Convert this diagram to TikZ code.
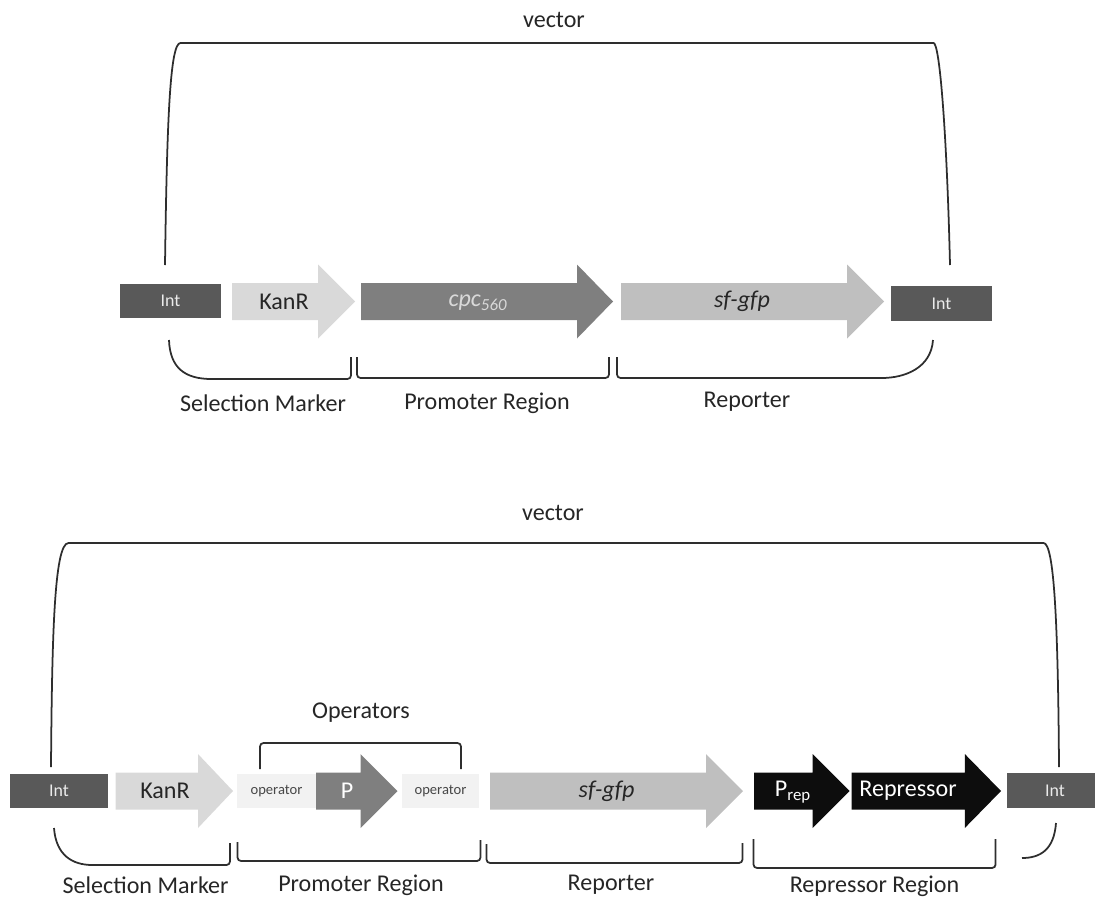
\documentclass[tikz,border=0pt]{standalone}
\usepackage{fontspec}
\setmainfont{Carlito}
\definecolor{intgray}{HTML}{595959}
\definecolor{kangray}{HTML}{D9D9D9}
\definecolor{pgray}{HTML}{7F7F7F}
\definecolor{gfpgray}{HTML}{BFBFBF}
\definecolor{opgray}{HTML}{F2F2F2}
\definecolor{repblack}{HTML}{0D0D0D}
\definecolor{txtdark}{HTML}{262626}
\definecolor{linegray}{HTML}{2E2E2E}
\begin{document}
\begin{tikzpicture}[x=0.02cm,y=-0.02cm,lbl/.style={font=\fontsize{13.7}{16}\selectfont,text=txtdark},intbox/.style={fill=intgray,text=white!92!black,font=\fontsize{10.2}{12}\selectfont,minimum height=0.68cm,inner sep=0pt},opbox/.style={fill=opgray,text=txtdark!85,font=\fontsize{8.3}{10}\selectfont,minimum height=0.68cm,inner sep=0pt},brk/.style={draw=linegray,line width=1pt,rounded corners=2pt}]
\def\bh{18.5}
\def\hh{37}
\def\gene#1#2#3#4#5{\fill[#5] (#1,#4-\bh) -- (#2,#4-\bh) -- (#2,#4-\hh) -- (#3,#4) -- (#2,#4+\hh) -- (#2,#4+\bh) -- (#1,#4+\bh) -- cycle;}

\useasboundingbox (0,0) rectangle (1095,899);

% first construct
\node[lbl] (vec1) at (554,20) {vector};
\draw[brk] (165,265) .. controls (167,120) and (170,43) .. (184,43) -- (930,43) .. controls (940,43) and (947,140) .. (950,265);

\node[intbox,minimum width=2.02cm] (int1L) at (170.5,301) {Int};
\gene{232}{318}{355}{301.5}{kangray}
\node[lbl] (kan1) at (284,301.5) {KanR};
\gene{361}{577}{613}{301.5}{pgray}
\node[lbl,text=kangray] (cpc1) at (478,303) {\textit{cpc\textsubscript{560}}};
\gene{621}{847}{884}{301.5}{gfpgray}
\node[lbl] (gfp1) at (742,301.5) {\textit{sf-gfp}};
\node[intbox,minimum width=2.02cm,minimum height=0.7cm] (int1R) at (941.5,303.5) {Int};

\draw[brk] (169,340) .. controls (170,368) and (185,379) .. (215,379) -- (351,379) -- (351,357);
\draw[brk] (357,357) -- (357,378) -- (609,378) -- (609,357);
\draw[brk] (617,357) -- (617,378) -- (878,378) .. controls (905,378) and (931,368) .. (933,340);
\node[lbl] (sel1) at (263,403) {Selection Marker};
\node[lbl] (prom1) at (487,403) {Promoter Region};
\node[lbl] (rep1) at (747,402) {Reporter};

% second construct
\node[lbl] (vec2) at (553,513) {vector};
\draw[brk] (51,767) .. controls (52,640) and (54,543) .. (72,543) -- (1040,543) .. controls (1054,543) and (1058,620) .. (1059,767);

\node[intbox,minimum width=1.95cm] (int2L) at (59,791) {Int};
\gene{115.7}{198}{233}{791}{kangray}
\node[lbl] (kan2) at (165,791) {KanR};
\node[opbox,minimum width=1.58cm] (op1) at (276.5,791) {operator};
\gene{316}{360.5}{397.5}{791}{pgray}
\node[lbl,text=white] (p2) at (347,791) {P};
\node[opbox,minimum width=1.56cm] (op2) at (440.5,791) {operator};
\gene{490}{706}{743}{791}{gfpgray}
\node[lbl] (gfp2) at (606.6,791) {\textit{sf-gfp}};
\gene{754}{812.6}{849.7}{791}{repblack}
\node[lbl,text=white] (prep) at (793,792) {P\textsubscript{rep}};
\gene{851.5}{964.8}{1001}{791}{repblack}
\node[lbl,text=white] (repr) at (908,791) {Repressor};
\node[intbox,minimum width=1.92cm,minimum height=0.7cm] (int2R) at (1055,790.5) {Int};

\draw[brk] (260,769) -- (260,743) -- (461,743) -- (461,769);
\node[lbl] (oper) at (361,713) {Operators};

\draw[brk] (54,828) .. controls (56,855) and (72,865) .. (96,865) -- (230,865) -- (230,843);
\draw[brk] (237.5,842) -- (237.5,861) -- (480.5,861) -- (480.5,840);
\draw[brk] (486.5,844) -- (486.5,863) -- (742.5,863) -- (742.5,843);
\draw[brk] (753.5,839) -- (753.5,868) -- (995.6,868) -- (995.6,839);
\draw[brk] (1056,823) .. controls (1054,850) and (1040,858) .. (1022,858);
\node[lbl] (sel2) at (145.6,885) {Selection Marker};
\node[lbl] (prom2) at (361,885) {Promoter Region};
\node[lbl] (rep2) at (611,885) {Reporter};
\node[lbl] (repreg) at (874.5,886) {Repressor Region};
\end{tikzpicture}
\end{document}
